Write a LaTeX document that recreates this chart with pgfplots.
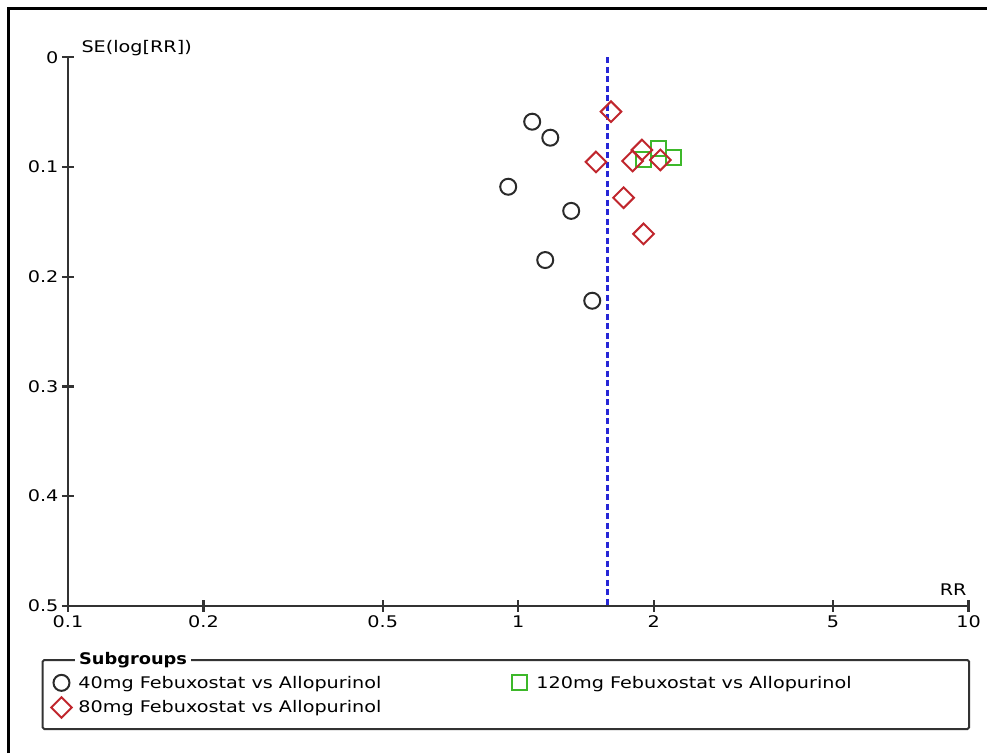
\documentclass[border=0pt]{standalone}
\usepackage{fontspec}
\setmainfont{DejaVu Sans}[FakeStretch=1.2, BoldFeatures={FakeStretch=1.11}]
\usepackage{pgfplots}
\pgfplotsset{compat=1.18}
\definecolor{axisgray}{HTML}{333333}
\definecolor{circ}{HTML}{2A2A2A}
\definecolor{dred}{HTML}{C0262D}
\definecolor{dgreen}{HTML}{3DB82A}
\definecolor{dblue}{HTML}{2626D6}
\begin{document}
\begin{tikzpicture}[x=1pt,y=1pt,font=\fontsize{16}{19}\selectfont]
\useasboundingbox (0,0) rectangle (987,753);
\draw[black, line width=3pt] (8.5,0) -- (8.5,744) -- (987,744);
\begin{axis}[
  at={(68pt,147.2pt)}, anchor=south west,
  scale only axis, width=900.5pt, height=548.5pt,
  xmode=log, xmin=0.1, xmax=10,
  ymin=0, ymax=0.5, y dir=reverse,
  axis x line=bottom, axis y line=left,
  axis line style={-, draw=axisgray, line width=2.6pt},
  every outer x axis line/.append style={-, draw=axisgray, line width=2.6pt},
  every outer y axis line/.append style={-, draw=axisgray, line width=2.6pt},
  tick style={draw=axisgray, line width=2.2pt},
  xtick align=center, ytick align=center, major tick length=12pt,
  xtick={0.1,0.2,0.5,1,2,5,10}, xticklabels={0.1,0.2,0.5,1,2,5,10},
  xminorticks=false, yminorticks=false,
  ytick={0,0.1,0.2,0.3,0.4,0.5}, yticklabels={0,0.1,0.2,0.3,0.4,0.5},
  ylabel={SE(log[RR])}, xlabel={RR},
  every axis y label/.style={at={(axis description cs:0.0111,1.0084)}, anchor=base west},
  every axis x label/.style={at={(axis description cs:1.0017,0.0197)}, anchor=base east},
  clip=false,
  legend columns=2,
  legend cell align=left,
  legend image code/.code={\draw[#1] plot coordinates {(0pt,0pt)}; \path[draw=none,fill=none] (-10pt,-8pt) rectangle (15pt,8pt);},
  legend style={at={(axis description cs:-0.0189,-0.124)}, anchor=north west, draw=none, fill=none,
    inner sep=0pt, row sep=5.5pt, font=\fontsize{16}{19}\selectfont},
]
\addplot[dblue, line width=2.2pt, dash pattern=on 6pt off 3.5pt, forget plot] coordinates {(1.579,0) (1.579,0.5)};
\addplot[only marks, mark=o, mark size=8pt, mark options={draw=circ, line width=2pt}] coordinates {
(1.074,0.0587) (1.178,0.0733) (0.950,0.118) (1.311,0.140) (1.148,0.1848) (1.460,0.2219)};
\addlegendentry{\makebox[429pt][l]{40mg Febuxostat vs Allopurinol}}
\addplot[only marks, mark=square, mark size=7.5pt, mark options={draw=dgreen, line width=2pt}] coordinates {
(2.050,0.083) (1.898,0.0936) (2.207,0.0915)};
\addlegendentry{120mg Febuxostat vs Allopurinol}
\addplot[only marks, mark=square, mark size=7.3pt, mark options={draw=dred, line width=2pt, rotate=45}] coordinates {
(1.607,0.0496) (1.488,0.0954) (1.883,0.0845) (1.795,0.0945) (2.068,0.0936) (1.714,0.128) (1.898,0.161)};
\addlegendentry{80mg Febuxostat vs Allopurinol}
\draw[axisgray, line width=2.6pt] (axis cs:0.1,0) -- (axis cs:0.1,0.5) -- (axis cs:10,0.5);
\end{axis}
\draw[axisgray, line width=2pt, rounded corners=1.5pt] (42.7,93) rectangle (969,24);
\node[fill=white, inner xsep=4pt, inner ysep=1pt, anchor=base west, font=\fontsize{16}{19}\selectfont\bfseries] at (75,89) {Subgroups};
\end{tikzpicture}
\end{document}
